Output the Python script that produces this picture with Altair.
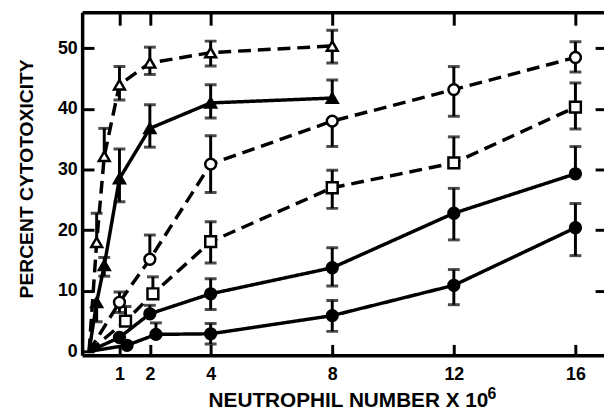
import altair as alt
import pandas as pd

series = ["open_tri", "filled_tri", "open_circ", "open_sq", "filled_circ_mid", "filled_circ_low"]

open_tri_x = [0, 0.25, 0.5, 1, 2, 4, 8]
open_tri_y = [0, 18.0, 32.2, 44.0, 47.6, 49.3, 50.4]
open_tri_hi = [None, 22.8, 36.8, 47.0, 50.2, 51.2, 53.0]
open_tri_lo = [None, None, None, 41.5, 45.7, 47.1, 47.6]

filled_tri_x = [0, 0.25, 0.5, 1, 2, 4, 8]
filled_tri_y = [0, 8.1, 14.2, 28.5, 36.8, 41.0, 41.8]
filled_tri_hi = [None, None, 15.5, 33.4, 40.7, 44.0, 44.8]
filled_tri_lo = [None, 4.9, 12.4, 24.7, 33.7, 38.5, None]

open_circ_x = [0, 1, 2, 4, 8, 12, 16]
open_circ_y = [0, 8.1, 15.2, 30.9, 38.0, 43.2, 48.5]
open_circ_hi = [None, 9.8, 19.2, 35.6, None, 47.0, 51.1]
open_circ_lo = [None, 6.4, None, 26.2, 33.8, 38.8, 46.1]

open_sq_x = [0, 1.2, 2.1, 4, 8, 12, 16]
open_sq_y = [0, 5.0, 9.5, 18.1, 27.0, 31.1, 40.3]
open_sq_hi = [None, 7.4, 12.3, 21.4, 29.9, 35.4, 44.3]
open_sq_lo = [None, None, None, 14.6, 23.6, None, 36.7]

mid_x = [0, 1, 2, 4, 8, 12, 16]
mid_y = [0, 2.3, 6.2, 9.5, 13.8, 22.8, 29.3]
mid_hi = [None, None, 7.6, 12.0, 17.1, 26.9, 33.8]
mid_lo = [None, None, None, 6.9, 10.8, 18.4, None]

low_x = [0, 1.25, 2.2, 4, 8, 12, 16]
low_y = [0, 1.0, 2.8, 2.9, 5.9, 10.9, 20.4]
low_hi = [None, None, 4.7, 4.6, 8.4, 13.5, 24.4]
low_lo = [None, None, None, 1.2, 3.3, 7.7, 15.8]

x_ticks = [1, 2, 4, 8, 12, 16]
y_ticks = [0, 10, 20, 30, 40, 50]
y_ticks_right = [10, 20, 30, 40, 50]

all_series = {
    "open_tri": (open_tri_x, open_tri_y, open_tri_hi, open_tri_lo),
    "filled_tri": (filled_tri_x, filled_tri_y, filled_tri_hi, filled_tri_lo),
    "open_circ": (open_circ_x, open_circ_y, open_circ_hi, open_circ_lo),
    "open_sq": (open_sq_x, open_sq_y, open_sq_hi, open_sq_lo),
    "filled_circ_mid": (mid_x, mid_y, mid_hi, mid_lo),
    "filled_circ_low": (low_x, low_y, low_hi, low_lo),
}

line_rows, point_rows, rule_rows, cap_rows = [], [], [], []
for s, (xs, ys, his, los) in all_series.items():
    for x, y, hi, lo in zip(xs, ys, his, los):
        line_rows.append({"s": s, "x": x, "y": y})
        if x > 0:
            point_rows.append({"s": s, "x": x, "y": y})
        if hi is not None or lo is not None:
            top = hi if hi is not None else y
            bot = lo if lo is not None else y
            rule_rows.append({"s": s, "x": x, "y": bot, "y2": top})
            if hi is not None:
                cap_rows.append({"s": s, "x": x, "y": hi})
            if lo is not None:
                cap_rows.append({"s": s, "x": x, "y": lo})

lines_df = pd.DataFrame(line_rows)
points_df = pd.DataFrame(point_rows)
rules_df = pd.DataFrame(rule_rows)
caps_df = pd.DataFrame(cap_rows)
host_df = pd.DataFrame({"x": [0], "y": [0]})

FONT = "Liberation Sans"
xscale = alt.Scale(domain=[-0.228, 16.94], nice=False, zero=False)
yscale = alt.Scale(domain=[-0.65, 55.95], nice=False, zero=False)

main_x_axis = alt.Axis(
    orient="bottom", values=x_ticks, domain=True, domainWidth=3.5, domainColor="black",
    ticks=False, grid=False, labelFont=FONT, labelFontSize=18, labelFontWeight="bold",
    labelColor="black", labelPadding=10,
    title="NEUTROPHIL NUMBER X 10", titleFont=FONT, titleFontSize=21, titleFontWeight="bold",
    titleColor="black", titleX=269, titleY=46, titleBaseline="middle", titleAlign="center",
)
main_y_axis = alt.Axis(
    orient="left", values=y_ticks, domain=True, domainWidth=3.5, domainColor="black",
    ticks=False, grid=False, labelFont=FONT, labelFontSize=18, labelFontWeight="bold",
    labelColor="black", labelPadding=5,
    title="PERCENT CYTOTOXICITY", titleFont=FONT, titleFontSize=19.5, titleFontWeight="bold",
    titleColor="black", titleX=-56, titleY=168, titleAngle=270, titleBaseline="middle",
    titleAlign="center",
)

# host layers for frame and inward ticks
top_domain = alt.Axis(orient="top", values=x_ticks, domain=True, domainWidth=3.5, domainColor="black",
                      ticks=False, labels=False, grid=False, title=None)
right_ticks = alt.Axis(orient="right", values=y_ticks_right, domain=False, ticks=True, tickSize=9,
                       tickWidth=3, tickColor="black", offset=-9, labels=False, grid=False, title=None)
top_ticks = alt.Axis(orient="top", values=x_ticks, domain=False, ticks=True, tickSize=13,
                     tickWidth=3, tickColor="black", offset=-13, labels=False, grid=False, title=None)
left_ticks = alt.Axis(orient="left", values=y_ticks, domain=False, ticks=True, tickSize=12,
                      tickWidth=3, tickColor="black", offset=-12, labels=False, grid=False, title=None)
bottom_ticks = alt.Axis(orient="bottom", values=x_ticks, domain=False, ticks=True, tickSize=11,
                        tickWidth=3, tickColor="black", offset=-11, labels=False, grid=False,
                        title="6", titleFont=FONT, titleFontSize=16, titleFontWeight="bold",
                        titleColor="black", titleX=414, titleY=50, titleBaseline="middle",
                        titleAlign="center")

h1 = alt.Chart(host_df).mark_point(opacity=0).encode(
    x=alt.X("x:Q", scale=xscale, axis=top_domain),
    y=alt.Y("y:Q", scale=yscale, axis=right_ticks),
)
h2 = alt.Chart(host_df).mark_point(opacity=0).encode(
    x=alt.X("x:Q", scale=xscale, axis=top_ticks),
    y=alt.Y("y:Q", scale=yscale, axis=left_ticks),
)
h3 = alt.Chart(host_df).mark_point(opacity=0).encode(
    x=alt.X("x:Q", scale=xscale, axis=bottom_ticks),
    y=alt.Y("y:Q", scale=yscale, axis=None),
)

lines = alt.Chart(lines_df).mark_line(strokeWidth=3.5, color="black").encode(
    x=alt.X("x:Q", scale=xscale, axis=main_x_axis),
    y=alt.Y("y:Q", scale=yscale, axis=main_y_axis),
    strokeDash=alt.StrokeDash("s:N", scale=alt.Scale(
        domain=series, range=[[13, 7], [1, 0], [13, 7], [13, 7], [1, 0], [1, 0]]), legend=None),
    detail="s:N",
)

rules = alt.Chart(rules_df).mark_rule(strokeWidth=3, color="black").encode(
    x=alt.X("x:Q", scale=xscale, axis=None),
    y=alt.Y("y:Q", scale=yscale, axis=None),
    y2="y2:Q",
)

caps = alt.Chart(caps_df).mark_tick(orient="horizontal", size=12, thickness=3, color="black").encode(
    x=alt.X("x:Q", scale=xscale, axis=None),
    y=alt.Y("y:Q", scale=yscale, axis=None),
)

points = alt.Chart(points_df).mark_point(filled=False, stroke="black", strokeWidth=2.5, opacity=1).encode(
    x=alt.X("x:Q", scale=xscale, axis=None),
    y=alt.Y("y:Q", scale=yscale, axis=None),
    shape=alt.Shape("s:N", scale=alt.Scale(
        domain=series, range=["triangle-up", "triangle-up", "circle", "square", "circle", "circle"]), legend=None),
    fill=alt.Fill("s:N", scale=alt.Scale(
        domain=series, range=["white", "black", "white", "white", "black", "black"]), legend=None),
    size=alt.Size("s:N", scale=alt.Scale(
        domain=series, range=[120, 120, 70, 50, 90, 90]), legend=None),
)

chart = alt.layer(h1, h2, h3, lines, rules, caps, points).resolve_axis(
    x="independent", y="independent"
).properties(
    width=528, height=347,
    autosize=alt.AutoSizeParams(type="none"),
    padding={"left": 75, "top": 2, "right": 0, "bottom": 57},
    background="white",
).configure_view(stroke="transparent")

chart.save("out.html", embed_options={"renderer": "svg", "actions": False})
